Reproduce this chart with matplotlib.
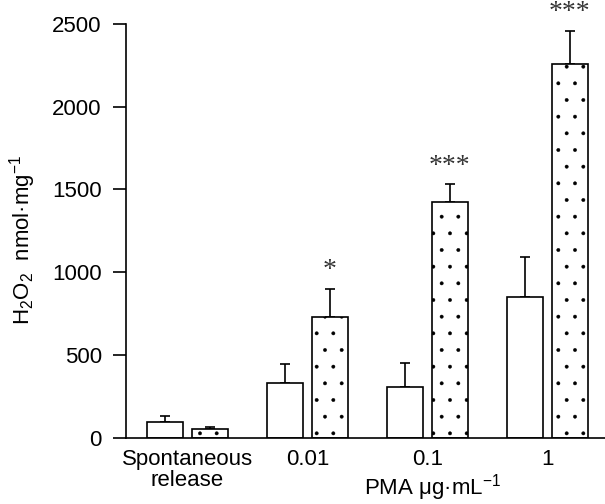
import matplotlib
matplotlib.use("Agg")
import matplotlib.pyplot as plt
import numpy as np

plt.rcParams["font.family"] = ["Liberation Sans", "DejaVu Sans"]
plt.rcParams["mathtext.fontset"] = "custom"
plt.rcParams["mathtext.rm"] = "Liberation Sans"
plt.rcParams["mathtext.it"] = "Liberation Sans"
plt.rcParams["hatch.color"] = "#7a7a7a"
plt.rcParams["hatch.linewidth"] = 0.3

# data
groups = ["Spontaneous\nrelease", "0.01", "0.1", "1"]
control_mean = [95, 329, 308, 852]
control_err = [38, 115, 142, 242]
treated_mean = [52, 731, 1427, 2258]
treated_err = [14, 168, 105, 201]
stars = ["", "*", "***", "***"]

x = np.arange(len(groups))
w = 0.3
off = 0.1875
fs = 16

fig = plt.figure(figsize=(6.05, 5.04), dpi=100)
ax = fig.add_axes([0.2083, 0.1315, 0.7917, 0.8209])

ax.bar(x - off, control_mean, w, color="white", edgecolor="black", linewidth=1.2, zorder=2)
ax.bar(x + off, treated_mean, w, color="white", edgecolor="black", linewidth=1.2,
       hatch=".", zorder=2)
ax.errorbar(x - off, control_mean, yerr=[np.zeros(len(x)), control_err], fmt="none",
            ecolor="black", elinewidth=1.2, capsize=3.5, capthick=1.2, zorder=1)
ax.errorbar(x + off, treated_mean, yerr=[np.zeros(len(x)), treated_err], fmt="none",
            ecolor="black", elinewidth=1.2, capsize=3.5, capthick=1.2, zorder=1)

# significance marks above the treated bars
for xi, m, e, s in zip(x + off, treated_mean, treated_err, stars):
    if s:
        ax.annotate(s, (xi, m + e), xytext=(0, 13), textcoords="offset points",
                    ha="center", va="center", fontsize=20, family="Liberation Serif",
                    color="#333333", annotation_clip=False)

ax.set_xlim(-0.5125, 3.483)
ax.set_ylim(0, 2500)
ax.set_yticks([0, 500, 1000, 1500, 2000, 2500])
ax.set_xticks(x)
ax.set_xticklabels(groups, linespacing=1.0)
ax.tick_params(axis="x", length=0, pad=8, labelsize=fs)
ax.tick_params(axis="y", length=9.5, width=1.2, pad=8, labelsize=fs)

for side in ["top", "right"]:
    ax.spines[side].set_visible(False)
ax.spines["left"].set_linewidth(1.2)
ax.spines["bottom"].set_linewidth(1.2)

ax.set_ylabel(r"H$\mathregular{_2}$O$\mathregular{_2}$  nmol·mg$\mathregular{^{-1}}$", fontsize=fs)
ax.yaxis.set_label_coords(-0.183, 0.479)
ax.set_xlabel(r"PMA μg·mL$\mathregular{^{-1}}$", fontsize=fs)
ax.xaxis.set_label_coords(0.639, -0.084)

fig.savefig("out.png", dpi=100)
